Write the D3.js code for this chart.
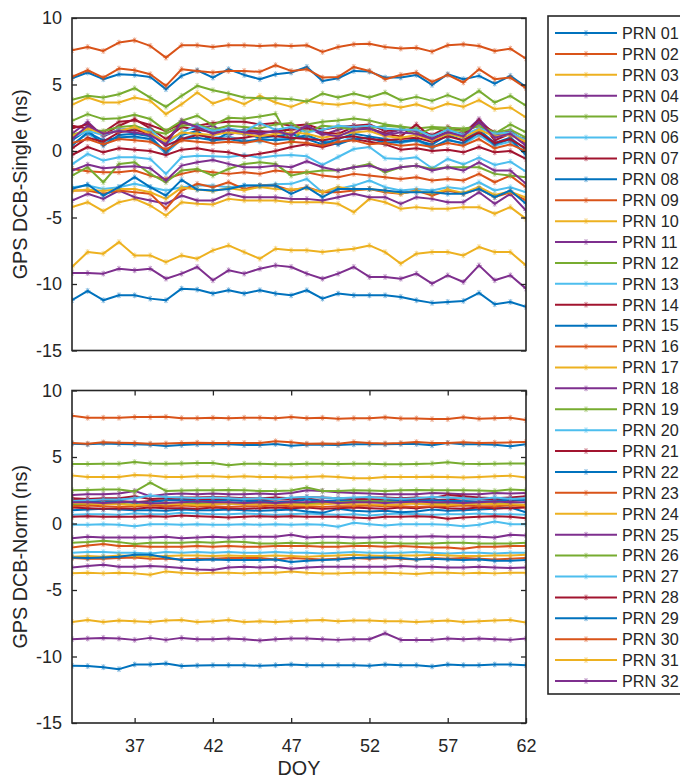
<!DOCTYPE html>
<html>
<head>
<meta charset="utf-8">
<script src="https://cdn.jsdelivr.net/npm/d3@7"></script>
<style>
  body { margin: 0; background: #fff; }
  svg { display: block; }
  text { font-family: "Liberation Sans", Arial, Helvetica, sans-serif; fill: #262626; }
</style>
</head>
<body>
<svg id="chart" width="680" height="778"></svg>
<script>
// Day of year of each daily solution
const days = [33, 34, 35, 36, 37, 38, 39, 40, 41, 42,
              43, 44, 45, 46, 47, 48, 49, 50, 51, 52,
              53, 54, 55, 56, 57, 58, 59, 60, 61, 62];

const prnNames = ["PRN 01","PRN 02","PRN 03","PRN 04","PRN 05","PRN 06","PRN 07","PRN 08",
                  "PRN 09","PRN 10","PRN 11","PRN 12","PRN 13","PRN 14","PRN 15","PRN 16",
                  "PRN 17","PRN 18","PRN 19","PRN 20","PRN 21","PRN 22","PRN 23","PRN 24",
                  "PRN 25","PRN 26","PRN 27","PRN 28","PRN 29","PRN 30","PRN 31","PRN 32"];

// MATLAB default line colour order, cycled over the satellites
const colorOrder = ["#0072BD", "#D95319", "#EDB120", "#7E2F8E", "#77AC30", "#4DBEEE", "#A2142F"];

const yTicks = [-15, -10, -5, 0, 5, 10];
const xTicks = [37, 42, 47, 52, 57, 62];

// Single-station DCB estimates (ns), one row per PRN
const singleDCB = [
  [5.47,5.9,5.4,5.77,5.72,5.57,4.65,5.65,6.07,5.52, 6.15,5.72,5.4,5.77,5.9,6.32,5.27,5.47,6.02,5.97, 5.52,5.52,5.72,4.97,5.77,5.4,5.65,5.07,5.65,4.82],
  [7.57,7.82,7.52,8.15,8.32,7.9,7.02,7.95,7.95,7.82, 7.95,7.95,7.9,7.95,7.9,7.95,7.45,7.82,8.02,8.07, 7.82,7.7,7.77,7.47,7.95,8.02,7.9,7.52,7.7,6.95],
  [3.47,4.02,3.65,3.65,4.02,3.77,2.77,3.52,4.4,3.57, 3.97,3.52,4.15,3.65,3.32,3.77,3.57,3.47,3.65,3.4, 3.52,3.27,3.52,3.15,3.57,3.32,3.82,3.15,3.27,2.52],
  [1.3,2.2,1.1,1.6,1.7,1.4,0.6,2.3,1.7,1.9, 1.2,1.6,1.5,1.4,1.7,1.8,1.2,1.6,1.9,1.7, 1.3,1.6,1.5,0.9,1.5,1.3,2.4,1.2,1.5,0.7],
  [3.85,4.15,4.02,4.27,4.72,4.02,3.32,4.15,4.9,4.57, 4.32,4.02,3.97,3.97,3.9,3.72,4.32,4.02,4.32,4.02, 4.4,3.82,4.07,3.77,4.2,3.77,4.52,3.65,4.15,3.4],
  [0.5,1.3,0.6,1.1,1.0,0.9,-0.2,0.9,1.3,1.0, 1.1,0.8,0.7,0.9,1.0,1.1,0.8,0.6,1.1,0.9, 0.7,0.6,0.8,0.2,0.9,0.5,1.2,0.4,0.7,-0.2],
  [1.9,1.7,1.4,2.2,2.3,1.95,1.5,2.1,1.9,2.1, 2.2,2.2,2.0,2.1,1.9,2.0,1.6,1.8,1.9,2.0, 1.5,1.6,1.6,1.2,1.8,1.5,2.1,1.4,1.2,0.9],
  [0.8,1.6,0.4,1.2,1.3,1.1,-0.1,1.2,1.5,0.7, 1.4,1.3,1.0,1.1,1.3,0.9,0.5,0.9,1.3,1.1, 0.9,0.7,0.8,0.5,1.2,0.8,1.6,0.6,1.0,0.1],
  [5.57,6.07,5.52,6.2,6.07,5.77,4.9,6.15,6.02,5.9, 6.02,6.02,5.95,6.45,6.02,6.15,5.52,5.57,6.32,6.02, 5.4,5.72,5.9,5.2,5.72,5.15,6.15,5.4,5.52,4.72],
  [-8.72,-7.6,-7.72,-6.85,-7.85,-7.85,-8.35,-7.85,-8.1,-7.47, -7.1,-7.6,-8.1,-7.35,-7.47,-7.47,-7.6,-7.47,-7.35,-7.1, -7.6,-8.47,-7.72,-7.6,-7.6,-7.85,-7.22,-7.6,-7.6,-8.6],
  [-9.17,-9.17,-9.22,-8.85,-8.97,-8.85,-9.6,-9.22,-8.72,-9.72, -8.97,-9.22,-8.85,-8.6,-8.72,-9.22,-9.6,-9.22,-8.72,-9.47, -9.47,-9.6,-9.22,-9.97,-9.35,-9.85,-8.6,-9.72,-9.35,-10.35],
  [2.27,2.77,2.4,2.47,2.72,2.4,1.52,2.27,2.65,1.95, 2.5,2.45,2.6,2.8,0.6,2.0,2.2,2.3,2.45,2.3, 2.0,1.85,1.7,1.8,1.75,1.7,1.85,1.3,2.0,1.4],
  [-1.0,-0.22,-0.72,-0.47,-0.47,-0.6,-1.72,-0.47,-0.35,-0.4, -0.45,-0.3,-0.5,-0.35,-0.3,-0.4,-1.05,-0.45,0.15,0.3, -0.55,-0.6,-0.47,-1.3,-0.6,-1.0,-0.5,-1.05,-0.8,-1.55],
  [-0.3,0.3,-0.1,0.2,0.1,0.0,-0.3,0.1,0.2,0.0, -0.1,-0.4,-0.2,0.0,0.3,0.5,0.3,0.6,0.9,0.7, 0.5,0.1,0.2,0.0,0.1,-0.1,0.3,-0.1,0.0,-0.6],
  [-11.22,-10.52,-11.22,-10.85,-10.85,-11.1,-11.22,-10.35,-10.42,-10.72, -10.47,-10.72,-10.47,-10.72,-10.85,-10.47,-11.1,-10.72,-10.85,-10.85, -10.85,-10.97,-11.22,-11.42,-11.35,-11.27,-10.67,-11.52,-11.35,-11.72],
  [-1.35,-1.52,-1.6,-1.6,-1.47,-1.85,-2.1,-1.72,-1.47,-1.6, -1.72,-1.6,-1.72,-1.47,-1.6,-1.6,-1.85,-1.97,-1.72,-1.85, -1.97,-2.1,-1.97,-2.22,-2.1,-2.22,-1.72,-2.35,-1.85,-2.72],
  [-4.22,-3.85,-4.52,-3.85,-3.6,-4.1,-4.85,-3.85,-3.97,-4.02, -3.6,-3.72,-3.72,-3.72,-3.85,-3.85,-3.85,-3.97,-4.6,-3.6, -3.85,-4.35,-4.22,-4.35,-4.35,-4.22,-4.22,-4.72,-4.22,-5.1],
  [-3.72,-3.22,-3.6,-2.97,-3.47,-3.72,-3.97,-3.35,-3.72,-3.72, -3.22,-3.47,-3.47,-3.47,-3.6,-3.6,-3.72,-3.47,-3.22,-3.47, -3.47,-3.97,-3.47,-3.6,-3.85,-3.85,-3.1,-3.97,-3.22,-4.47],
  [-1.85,-1.22,-2.35,-0.97,-0.85,-1.72,-2.35,-1.47,-1.35,-1.85, -1.35,-0.97,-0.85,-0.97,-1.85,-1.6,-1.47,-1.47,-1.22,-0.97, -1.6,-1.22,-1.1,-1.35,-1.22,-1.22,-1.22,-1.72,-1.85,-1.97],
  [-2.72,-2.6,-2.85,-2.72,-2.47,-2.72,-2.97,-2.72,-2.6,-2.6, -2.72,-2.6,-2.6,-2.5,-2.47,-2.1,-3.1,-2.85,-2.6,-2.22, -2.72,-2.97,-2.85,-2.97,-2.72,-2.85,-2.35,-2.97,-2.72,-3.1],
  [1.7,2.0,1.2,1.9,2.4,1.7,0.9,1.8,1.6,1.4, 1.6,1.5,1.4,1.5,1.6,1.7,1.4,1.3,1.8,1.7, 1.3,1.1,2.0,1.0,1.4,1.2,2.3,0.8,1.3,0.6],
  [0.4,1.4,0.8,1.0,1.1,0.9,0.0,0.9,1.0,0.8, 0.9,0.7,0.9,0.8,0.9,1.2,0.7,0.5,0.9,1.0, 0.6,0.7,0.9,0.3,0.8,0.6,1.4,0.5,0.9,-0.3],
  [-2.97,-2.97,-3.22,-2.97,-3.1,-3.22,-4.35,-2.97,-2.47,-2.72, -2.35,-2.85,-2.6,-2.6,-2.97,-2.72,-3.1,-3.1,-2.97,-2.85, -3.1,-3.22,-2.97,-3.35,-2.97,-3.22,-2.85,-3.47,-3.1,-3.72],
  [-3.0,-2.9,-3.0,-2.85,-2.85,-3.1,-3.6,-2.75,-2.9,-3.0, -2.8,-2.95,-2.7,-2.85,-2.9,-2.8,-3.1,-2.7,-2.9,-2.85, -3.0,-3.2,-3.0,-3.2,-2.9,-3.15,-2.7,-3.3,-3.05,-3.5],
  [-1.47,-1.02,-1.3,-1.2,-1.15,-1.3,-2.22,-1.1,-0.85,-0.67, -0.97,-1.22,-1.22,-1.1,-1.22,-0.77,-1.22,-1.47,-1.22,-1.1, -1.47,-1.22,-1.1,-1.47,-1.22,-1.47,-0.85,-1.47,-1.47,-2.47],
  [1.2,1.6,1.5,1.8,1.9,1.5,1.3,1.9,2.0,1.6, 1.9,1.8,1.7,2.0,2.1,1.4,1.9,1.8,1.6,1.7, 1.9,1.8,1.2,1.7,1.6,1.5,1.9,1.4,1.6,1.0],
  [1.0,1.5,1.2,1.6,1.7,1.6,0.5,1.4,1.9,1.5, 1.7,1.5,2.1,1.6,1.8,1.4,1.6,1.9,1.8,1.9, 1.7,1.6,1.6,1.1,1.6,1.2,1.7,1.3,1.4,0.8],
  [0.2,1.0,0.7,1.4,1.6,1.3,0.4,0.9,1.2,1.0, 0.9,1.0,1.2,1.1,1.0,0.9,0.8,1.0,1.1,0.9, 0.8,0.9,1.0,0.7,1.1,0.8,1.4,0.6,0.9,0.2],
  [-2.85,-2.52,-3.35,-2.72,-1.97,-2.72,-3.35,-2.17,-2.9,-2.97, -2.85,-2.6,-2.6,-2.6,-3.22,-2.72,-3.47,-2.85,-2.85,-2.85, -2.97,-3.1,-3.1,-3.1,-3.22,-3.22,-2.85,-3.47,-2.97,-3.97],
  [0.6,0.9,0.5,0.9,0.8,0.7,0.1,0.8,0.7,0.6, 0.7,0.6,0.8,0.5,0.7,0.6,0.4,0.7,0.8,0.5, 0.6,0.4,0.5,0.3,0.6,0.4,0.9,0.2,0.5,0.0],
  [1.1,1.7,1.3,1.5,1.8,1.3,0.7,1.4,1.3,1.2, 1.4,1.3,1.1,1.3,1.4,1.3,1.0,1.2,1.4,1.5, 1.1,1.0,1.2,0.8,1.3,1.0,1.6,1.1,1.2,0.7],
  [0.9,1.9,1.3,1.5,1.4,1.2,0.5,2.2,1.8,1.3, 1.6,1.4,1.3,1.5,1.2,1.9,1.3,1.1,1.6,1.7, 1.2,1.4,1.3,0.9,1.4,1.1,2.2,1.0,1.3,0.4]
];

// Network-normalised DCB estimates (ns), one row per PRN
const normDCB = [
  [6.0,5.95,6.02,5.98,5.95,5.92,5.82,5.9,5.95,5.95, 5.95,5.9,5.9,5.98,5.85,5.92,5.92,5.9,5.95,5.95, 5.95,5.98,5.98,5.88,6.05,5.95,5.95,5.92,5.8,5.95],
  [8.1,7.95,7.95,7.95,8.0,8.0,8.02,7.92,7.92,7.95, 7.92,7.95,7.95,7.92,8.0,7.92,7.95,7.88,7.92,7.92, 7.98,7.9,7.9,7.85,7.85,7.98,7.88,7.92,7.95,7.78],
  [3.6,3.5,3.5,3.5,3.65,3.6,3.5,3.5,3.55,3.55, 3.5,3.55,3.5,3.5,3.45,3.5,3.55,3.5,3.4,3.4, 3.5,3.5,3.5,3.52,3.5,3.45,3.5,3.55,3.6,3.45],
  [2.15,2.2,2.2,2.25,2.45,2.05,2.2,2.25,2.2,2.25, 2.2,2.2,2.25,2.2,2.3,2.5,2.45,2.35,2.3,2.25, 2.2,2.2,2.2,2.3,2.25,2.2,2.2,2.3,2.25,2.3],
  [4.48,4.48,4.5,4.5,4.62,4.52,4.5,4.52,4.55,4.55, 4.38,4.5,4.5,4.45,4.45,4.5,4.5,4.48,4.5,4.5, 4.45,4.45,4.48,4.52,4.6,4.5,4.48,4.5,4.52,4.52],
  [0.65,0.7,0.7,0.65,0.75,0.7,0.7,0.8,0.75,0.7, 0.7,0.75,0.7,0.65,0.7,0.75,0.7,0.65,0.7,0.6, 0.7,0.75,0.7,0.65,0.7,0.7,0.75,0.7,0.7,0.65],
  [1.9,1.85,1.9,1.9,2.05,1.85,1.9,1.95,1.95,2.0, 1.95,1.9,1.9,1.95,1.9,2.0,1.95,1.9,1.85,1.95, 1.95,1.9,1.95,1.9,2.15,2.05,1.95,1.9,1.95,2.05],
  [1.0,1.05,1.1,1.05,1.0,1.0,0.95,1.05,1.0,1.0, 1.05,1.0,0.95,1.0,1.05,0.9,0.8,1.1,0.95,0.9, 0.95,0.85,0.9,1.05,0.95,1.0,1.05,1.1,1.2,0.85],
  [6.05,6.0,6.1,6.08,6.05,6.0,6.02,6.05,6.08,6.05, 6.05,6.05,6.05,6.18,6.1,6.0,6.02,6.0,6.12,6.05, 6.02,6.05,6.12,6.05,6.05,6.1,6.05,6.08,6.1,6.12],
  [-7.4,-7.25,-7.4,-7.3,-7.35,-7.4,-7.3,-7.25,-7.4,-7.35, -7.25,-7.4,-7.35,-7.4,-7.35,-7.3,-7.25,-7.35,-7.3,-7.3, -7.35,-7.35,-7.4,-7.35,-7.3,-7.4,-7.35,-7.3,-7.25,-7.45],
  [-8.7,-8.65,-8.6,-8.65,-8.75,-8.6,-8.75,-8.6,-8.7,-8.7, -8.65,-8.7,-8.8,-8.7,-8.65,-8.65,-8.7,-8.75,-8.7,-8.7, -8.25,-8.75,-8.75,-8.75,-8.65,-8.7,-8.65,-8.7,-8.75,-8.65],
  [2.5,2.52,2.55,2.55,2.4,3.08,2.45,2.48,2.5,2.5, 2.52,2.5,2.45,2.45,2.48,2.7,2.45,2.45,2.5,2.48, 2.45,2.5,2.52,2.5,2.5,2.5,2.48,2.45,2.55,2.5],
  [-0.1,-0.1,-0.05,-0.1,-0.2,-0.05,-0.05,-0.1,-0.05,-0.1, -0.1,-0.05,-0.1,-0.05,-0.1,-0.05,-0.1,-0.25,0.05,-0.05, -0.15,-0.05,-0.05,-0.05,-0.1,-0.2,-0.1,0.15,-0.05,-0.05],
  [0.5,0.55,0.5,0.5,0.5,0.55,0.5,0.6,0.55,0.5, 0.45,0.5,0.55,0.5,0.55,0.5,0.5,0.5,0.45,0.4, 0.5,0.5,0.55,0.5,0.35,0.45,0.5,0.55,0.5,0.4],
  [-10.7,-10.72,-10.8,-10.95,-10.6,-10.6,-10.52,-10.72,-10.68,-10.65, -10.65,-10.65,-10.7,-10.65,-10.6,-10.65,-10.65,-10.65,-10.65,-10.7, -10.6,-10.65,-10.65,-10.75,-10.6,-10.65,-10.65,-10.6,-10.6,-10.65],
  [-1.8,-1.65,-1.55,-1.7,-1.7,-1.75,-1.75,-1.75,-1.7,-1.75, -1.7,-1.75,-1.75,-1.7,-1.7,-1.7,-1.75,-1.75,-1.7,-1.7, -1.75,-1.7,-1.75,-1.8,-1.8,-1.9,-1.75,-1.75,-1.7,-1.7],
  [-3.75,-3.7,-3.75,-3.7,-3.75,-3.85,-3.6,-3.7,-3.75,-3.7, -3.7,-3.75,-3.7,-3.7,-3.6,-3.7,-3.75,-3.75,-3.7,-3.7, -3.7,-3.75,-3.8,-3.7,-3.7,-3.75,-3.7,-3.75,-3.7,-3.7],
  [-3.3,-3.2,-3.1,-3.25,-3.25,-3.2,-3.25,-3.35,-3.45,-3.5, -3.3,-3.25,-3.3,-3.25,-3.4,-3.3,-3.25,-3.25,-3.25,-3.25, -3.25,-3.2,-3.25,-3.25,-3.3,-3.3,-3.25,-3.3,-3.35,-3.3],
  [-1.45,-1.4,-1.3,-1.4,-1.55,-1.45,-1.45,-1.45,-1.4,-1.45, -1.35,-1.4,-1.5,-1.5,-1.45,-1.5,-1.45,-1.45,-1.5,-1.45, -1.45,-1.5,-1.5,-1.5,-1.45,-1.45,-1.5,-1.5,-1.5,-1.45],
  [-2.2,-2.15,-2.15,-2.2,-2.2,-2.25,-2.15,-2.2,-2.15,-2.2, -2.15,-2.2,-2.2,-2.15,-2.2,-2.2,-2.25,-2.2,-2.15,-2.2, -2.2,-2.2,-2.15,-2.2,-2.25,-2.2,-2.2,-2.25,-2.2,-2.2],
  [1.75,1.8,1.75,1.7,1.6,1.7,1.75,1.85,1.8,1.8, 1.8,1.75,1.75,1.8,1.8,1.9,1.7,1.7,1.75,1.8, 1.75,1.8,1.85,1.75,1.8,1.9,1.85,1.8,1.7,1.8],
  [1.7,1.65,1.6,1.7,1.55,1.6,1.75,1.75,1.7,1.7, 1.75,1.7,1.7,1.6,1.65,1.8,1.7,1.75,1.7,1.65, 1.7,1.75,1.7,1.75,1.7,1.7,1.65,1.7,1.8,1.75],
  [-2.6,-2.65,-2.65,-2.6,-2.55,-2.65,-2.65,-2.7,-2.65,-2.65, -2.6,-2.6,-2.6,-2.7,-2.6,-2.65,-2.7,-2.65,-2.6,-2.65, -2.6,-2.65,-2.7,-2.6,-2.65,-2.6,-2.65,-2.7,-2.65,-2.6],
  [-2.5,-2.45,-2.5,-2.4,-2.45,-2.5,-2.45,-2.4,-2.4,-2.45, -2.4,-2.45,-2.45,-2.4,-2.45,-2.5,-2.45,-2.4,-2.35,-2.4, -2.45,-2.4,-2.4,-2.35,-2.4,-2.45,-2.45,-2.4,-2.4,-2.35],
  [-1.1,-1.0,-1.05,-1.05,-1.05,-1.05,-1.0,-1.1,-1.05,-1.0, -1.05,-1.0,-1.0,-1.0,-0.85,-1.05,-1.0,-1.0,-1.05,-1.05, -1.0,-1.0,-1.0,-0.95,-1.0,-1.0,-1.0,-1.05,-0.85,-0.9],
  [1.4,1.45,1.5,1.5,1.4,1.45,1.5,1.5,1.55,1.5, 1.5,1.45,1.5,1.5,1.45,1.5,1.55,1.6,1.65,1.7, 1.65,1.6,1.5,1.5,1.45,1.45,1.5,1.55,1.45,1.4],
  [1.7,1.75,1.8,1.8,1.9,2.1,2.0,1.95,1.9,1.95, 1.9,1.85,1.9,1.8,1.95,2.0,1.95,1.9,1.95,2.0, 1.9,1.85,1.9,2.0,1.95,1.9,1.85,1.95,1.85,1.9],
  [1.2,1.15,1.1,1.15,1.1,1.2,1.15,1.15,1.1,1.2, 1.15,1.1,1.15,1.2,1.15,1.2,1.1,1.15,1.2,1.15, 1.1,1.2,1.15,1.25,1.15,1.1,1.2,1.15,1.15,1.2],
  [-2.55,-2.6,-2.55,-2.5,-2.35,-2.35,-2.55,-2.75,-2.75,-2.7, -2.75,-2.75,-2.75,-2.7,-2.9,-2.8,-2.75,-2.7,-2.6,-2.55, -2.55,-2.6,-2.7,-2.65,-2.7,-2.75,-2.7,-2.8,-2.8,-2.75],
  [1.3,1.35,1.3,1.25,1.3,1.35,1.3,1.35,1.3,1.3, 1.25,1.3,1.3,1.35,1.3,1.3,1.25,1.3,1.3,1.35, 1.3,1.3,1.25,1.3,1.3,1.35,1.3,1.3,1.35,1.3],
  [1.55,1.5,1.45,1.45,1.4,1.45,1.5,1.45,1.4,1.45, 1.5,1.45,1.45,1.5,1.45,1.4,1.45,1.5,1.45,1.45, 1.4,1.45,1.5,1.45,1.4,1.45,1.5,1.45,1.45,1.4],
  [1.6,1.6,1.55,1.6,1.65,1.5,1.55,1.6,1.65,1.6, 1.6,1.55,1.6,1.55,1.6,1.6,1.65,1.55,1.6,1.6, 1.55,1.6,1.65,1.6,1.6,1.55,1.6,1.65,1.6,1.6]
];

const svg = d3.select("#chart");
const axisColor = "#262626";
const fontFamily = '"Liberation Sans", Arial, sans-serif';
const colorOf = i => colorOrder[i % colorOrder.length];
// Plain hyphen for negative tick labels
const tickText = d => String(d);

const x = d3.scaleLinear().domain([d3.min(days), d3.max(days)]).range([72, 526]);

const panels = [
  { id: "single", values: singleDCB, top: 18, bottom: 350.5, label: "GPS DCB-Single (ns)", showX: false },
  { id: "norm",   values: normDCB,   top: 390.5, bottom: 723, label: "GPS DCB-Norm (ns)",  showX: true }
];

// Six-armed asterisk marker centred on the origin
const starPath = (r) => {
  const a = r * 0.866, b = r * 0.5;
  return `M${-r},0L${r},0M${-b},${-a}L${b},${a}M${-b},${a}L${b},${-a}M0,${-r}L0,${r}`;
};

panels.forEach(p => {
  const y = d3.scaleLinear().domain([-15, 10]).range([p.bottom, p.top]);
  const g = svg.append("g");

  g.append("clipPath").attr("id", "clip-" + p.id)
    .append("rect")
    .attr("x", x.range()[0]).attr("y", p.top)
    .attr("width", x.range()[1] - x.range()[0]).attr("height", p.bottom - p.top);

  const plot = g.append("g").attr("clip-path", `url(#clip-${p.id})`);
  const line = d3.line().x((d, i) => x(days[i])).y(d => y(d));

  p.values.forEach((series, s) => {
    const c = colorOf(s);
    const sg = plot.append("g");
    sg.append("path")
      .attr("d", line(series))
      .attr("fill", "none")
      .attr("stroke", c)
      .attr("stroke-width", 2)
      .attr("stroke-linejoin", "round");
    sg.selectAll("path.mk")
      .data(series)
      .join("path")
      .attr("class", "mk")
      .attr("transform", (d, i) => `translate(${x(days[i])},${y(d)})`)
      .attr("d", starPath(3))
      .attr("fill", "none")
      .attr("stroke", c)
      .attr("stroke-opacity", 0.5)
      .attr("stroke-width", 0.9);
  });

  // Axes: inward ticks on all sides of the box
  const left = d3.axisLeft(y).tickValues(yTicks).tickSize(-5).tickPadding(10).tickFormat(tickText);
  const right = d3.axisRight(y).tickValues(yTicks).tickSize(-5).tickFormat("");
  const gl = g.append("g").attr("transform", `translate(${x.range()[0]},0)`).call(left);
  const gr = g.append("g").attr("transform", `translate(${x.range()[1]},0)`).call(right);
  [gl, gr].forEach(a => {
    a.select(".domain").remove();
    a.selectAll("line").attr("stroke", axisColor).attr("stroke-width", 1.3);
  });
  gl.selectAll("text").attr("font-size", 18).attr("fill", axisColor).style("font-family", fontFamily);

  if (p.showX) {
    const bottom = d3.axisBottom(x).tickValues(xTicks).tickSize(-5).tickPadding(16).tickFormat(tickText);
    const topAx = d3.axisTop(x).tickValues(xTicks).tickSize(-5).tickFormat("");
    const gb = g.append("g").attr("transform", `translate(0,${p.bottom})`).call(bottom);
    const gt = g.append("g").attr("transform", `translate(0,${p.top})`).call(topAx);
    [gb, gt].forEach(a => {
      a.select(".domain").remove();
      a.selectAll("line").attr("stroke", axisColor).attr("stroke-width", 1.3);
    });
    gb.selectAll("text").attr("font-size", 18).attr("fill", axisColor).style("font-family", fontFamily);

    svg.append("text")
      .attr("x", (x.range()[0] + x.range()[1]) / 2)
      .attr("y", 775)
      .attr("text-anchor", "middle")
      .attr("font-size", 19.8)
      .text("DOY");
  }

  // Axes box
  g.append("rect")
    .attr("x", x.range()[0]).attr("y", p.top)
    .attr("width", x.range()[1] - x.range()[0]).attr("height", p.bottom - p.top)
    .attr("fill", "none")
    .attr("stroke", axisColor)
    .attr("stroke-width", 1.6);

  svg.append("text")
    .attr("transform", `translate(27,${(p.top + p.bottom) / 2}) rotate(-90)`)
    .attr("text-anchor", "middle")
    .attr("font-size", 19.8)
    .text(p.label);
});

// Legend
const legendTop = 16, legendBottom = 694, legendLeft = 548;
const firstRow = 33, lastRow = 681;
const rowStep = (lastRow - firstRow) / (prnNames.length - 1);
const legend = svg.append("g");
legend.append("rect")
  .attr("x", legendLeft).attr("y", legendTop)
  .attr("width", 140).attr("height", legendBottom - legendTop)
  .attr("fill", "#fff")
  .attr("stroke", axisColor)
  .attr("stroke-width", 1.6);

prnNames.forEach((name, i) => {
  const cy = firstRow + i * rowStep;
  const c = colorOf(i);
  legend.append("line")
    .attr("x1", 555).attr("x2", 617).attr("y1", cy).attr("y2", cy)
    .attr("stroke", c).attr("stroke-width", 2);
  legend.append("path")
    .attr("transform", `translate(586,${cy})`)
    .attr("d", starPath(3))
    .attr("fill", "none").attr("stroke", c)
    .attr("stroke-opacity", 0.5).attr("stroke-width", 0.9);
  legend.append("text")
    .attr("x", 622).attr("y", cy)
    .attr("dy", "0.36em")
    .attr("font-size", 16.2)
    .attr("fill", "#000")
    .text(name);
});
</script>
</body>
</html>
